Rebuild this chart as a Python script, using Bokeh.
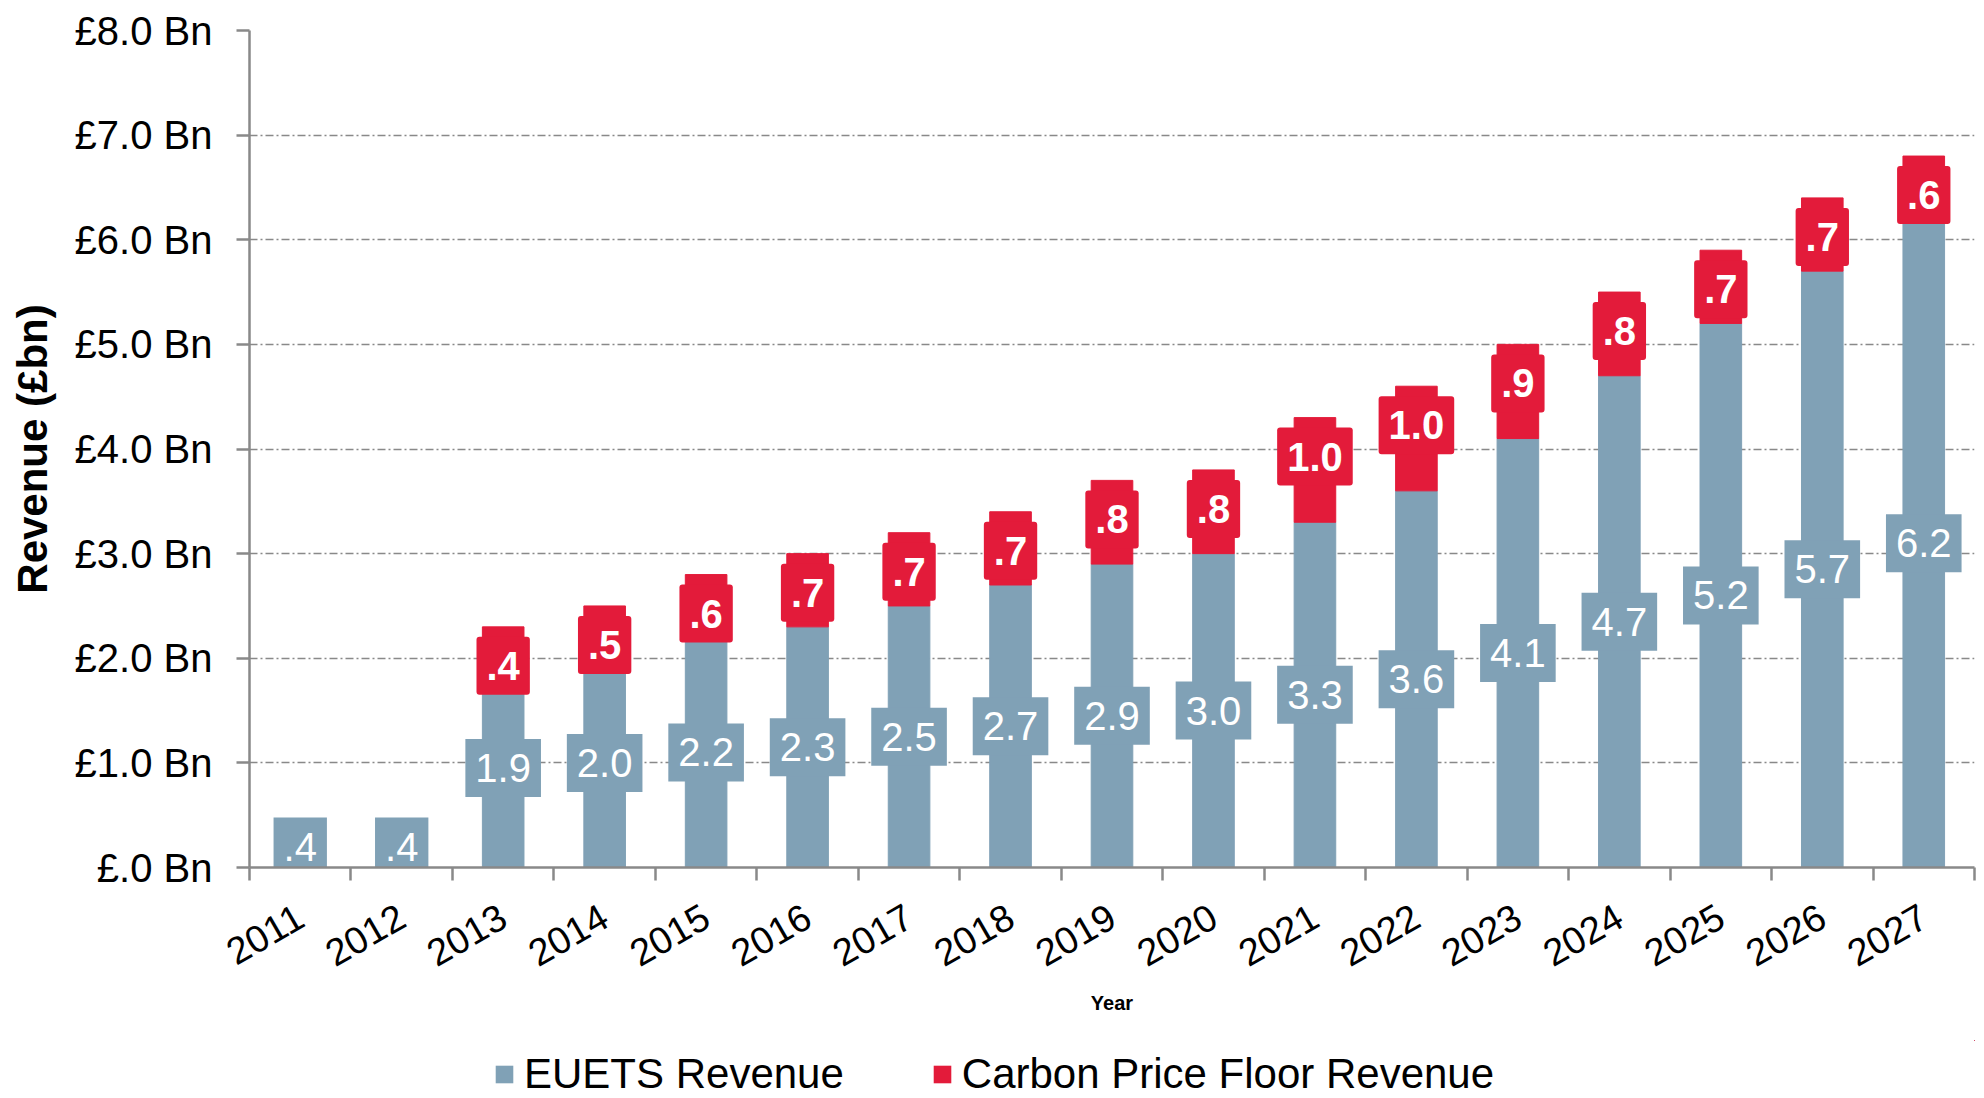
from bokeh.plotting import figure
from bokeh.layouts import column
from bokeh.models import Range1d, FixedTicker, ColumnDataSource, Legend, LegendItem
from bokeh.core.properties import value
from bokeh.embed import file_html
from bokeh.resources import INLINE

years = ["2011", "2012", "2013", "2014", "2015", "2016", "2017", "2018", "2019",
         "2020", "2021", "2022", "2023", "2024", "2025", "2026", "2027"]
euets = [0.4, 0.4, 1.9, 2.0, 2.2, 2.3, 2.5, 2.7, 2.9, 3.0, 3.3, 3.6, 4.1, 4.7, 5.2, 5.7, 6.2]
cpf = [0.0, 0.0, 0.4, 0.5, 0.6, 0.7, 0.7, 0.7, 0.8, 0.8, 1.0, 1.0, 0.9, 0.8, 0.7, 0.7, 0.6]
y_ticks = [0, 1, 2, 3, 4, 5, 6, 7, 8]
y_tick_labels = ["£.0 Bn", "£1.0 Bn", "£2.0 Bn", "£3.0 Bn", "£4.0 Bn", "£5.0 Bn",
                 "£6.0 Bn", "£7.0 Bn", "£8.0 Bn"]
series_names = ["EUETS Revenue", "Carbon Price Floor Revenue"]

BLUE = "#80A1B6"
RED = "#E31B3A"
GRAY = "#898989"
FONT = "Liberation Sans"


def fmt(v):
    return f"{v:.1f}".lstrip("0")


xs = [i + 1 for i in range(len(years))]
tops = [e + c for e, c in zip(euets, cpf)]

src = ColumnDataSource(dict(
    x=xs, euets=euets, cpf=cpf, top=tops,
    mid=[e / 2 for e in euets],
    elab=[fmt(e) for e in euets],
))
red_idx = [i for i, c in enumerate(cpf) if c > 0]
rsrc = ColumnDataSource(dict(
    x=[xs[i] for i in red_idx],
    base=[euets[i] for i in red_idx],
    top=[tops[i] for i in red_idx],
    lab=[fmt(cpf[i]) for i in red_idx],
))

p = figure(width=1980, height=1040, output_backend="svg", toolbar_location=None,
           x_range=Range1d(0.5, len(years) + 0.5), y_range=Range1d(0, 8),
           min_border_left=249, min_border_right=6, min_border_top=30, min_border_bottom=173)
p.outline_line_color = None
p.background_fill_color = "white"

rb = p.vbar(x="x", width=0.41, bottom=0, top="euets", source=src, color=BLUE)
rr = p.vbar(x="x", width=0.41, bottom="base", top="top", source=rsrc, color=RED)

# EUETS labels, centred in segment  (padding = (horizontal, vertical))
p.text(x="x", y="mid", text="elab", source=src, text_color="white",
       text_font=value(FONT), text_font_size=value("40px"),
       text_align="center", text_baseline="middle",
       background_fill_color=BLUE, padding=(10, 15))
# CPF labels, inside end
p.text(x="x", y="top", text="lab", source=rsrc, text_color="white",
       text_font=value(FONT), text_font_size=value("40px"), text_font_style="bold",
       text_align="center", text_baseline="top", y_offset=10,
       background_fill_color=RED, padding=(10, 15), border_radius=3)

# Axes
p.yaxis.ticker = FixedTicker(ticks=y_ticks)
p.yaxis.major_label_overrides = {t: l for t, l in zip(y_ticks, y_tick_labels)}
p.yaxis.major_label_text_font = FONT
p.yaxis.major_label_text_font_size = "40px"
p.yaxis.major_label_text_color = "black"
p.yaxis.major_label_standoff = 24
p.yaxis.major_tick_out = 13
p.yaxis.major_tick_in = 0
p.yaxis.minor_tick_line_color = None
p.yaxis.axis_line_color = GRAY
p.yaxis.axis_line_width = 2.5
p.yaxis.major_tick_line_color = GRAY
p.yaxis.major_tick_line_width = 2.5
p.yaxis.axis_label = "Revenue (£bn)"
p.yaxis.axis_label_text_font = FONT
p.yaxis.axis_label_text_font_size = "42px"
p.yaxis.axis_label_text_font_style = "bold"
p.yaxis.axis_label_text_color = "black"
p.yaxis.axis_label_standoff = 16

bounds = [i + 0.5 for i in range(len(years) + 1)]
p.xaxis.ticker = FixedTicker(ticks=xs, minor_ticks=bounds)
p.xaxis.major_label_overrides = {x: y for x, y in zip(xs, years)}
p.xaxis.major_label_orientation = 0.5236
p.xaxis.major_label_text_font = FONT
p.xaxis.major_label_text_font_size = "38px"
p.xaxis.major_label_text_color = "black"
p.xaxis.major_label_standoff = 33
p.xaxis.major_tick_line_color = None
p.xaxis.major_tick_out = 0
p.xaxis.major_tick_in = 0
p.xaxis.minor_tick_out = 13
p.xaxis.minor_tick_in = 0
p.xaxis.minor_tick_line_color = GRAY
p.xaxis.minor_tick_line_width = 2.5
p.xaxis.axis_line_color = GRAY
p.xaxis.axis_line_width = 2.5
p.xaxis.axis_label = "Year"
p.xaxis.axis_label_text_font = FONT
p.xaxis.axis_label_text_font_size = "20px"
p.xaxis.axis_label_text_font_style = "bold"
p.xaxis.axis_label_text_color = "black"
p.xaxis.axis_label_standoff = 10

p.xgrid.grid_line_color = None
p.ygrid.ticker = FixedTicker(ticks=y_ticks)
p.ygrid.grid_line_color = GRAY
p.ygrid.grid_line_width = 1.5
p.ygrid.grid_line_dash = "8 3 2 3"

# Legend strip below the chart (frame aligned with the main plot's frame)
pl = figure(width=1980, height=58, output_backend="svg", toolbar_location=None,
            x_range=Range1d(-200, -199), y_range=Range1d(-200, -199), min_border=0)
pl.axis.visible = False
pl.grid.grid_line_color = None
pl.outline_line_color = None
# legend proxies (same data, far outside the strip's visible ranges)
lb = pl.vbar(x="x", width=0.41, bottom=0, top="euets", source=src,
             fill_color=BLUE, line_color=None)
lr = pl.vbar(x="x", width=0.41, bottom="base", top="top", source=rsrc,
             fill_color=RED, line_color=None)
legend = Legend(items=[LegendItem(label=series_names[0], renderers=[lb]),
                       LegendItem(label=series_names[1], renderers=[lr])],
                orientation="horizontal", location=(244, 0),
                padding=0, margin=0, spacing=87,
                glyph_width=22, glyph_height=22, label_standoff=9,
                label_text_font=FONT, label_text_font_size="42px",
                label_text_color="black",
                background_fill_alpha=0, border_line_color=None)
pl.add_layout(legend, "center")

open("out.html", "w").write(file_html(column(p, pl, spacing=0), INLINE))
